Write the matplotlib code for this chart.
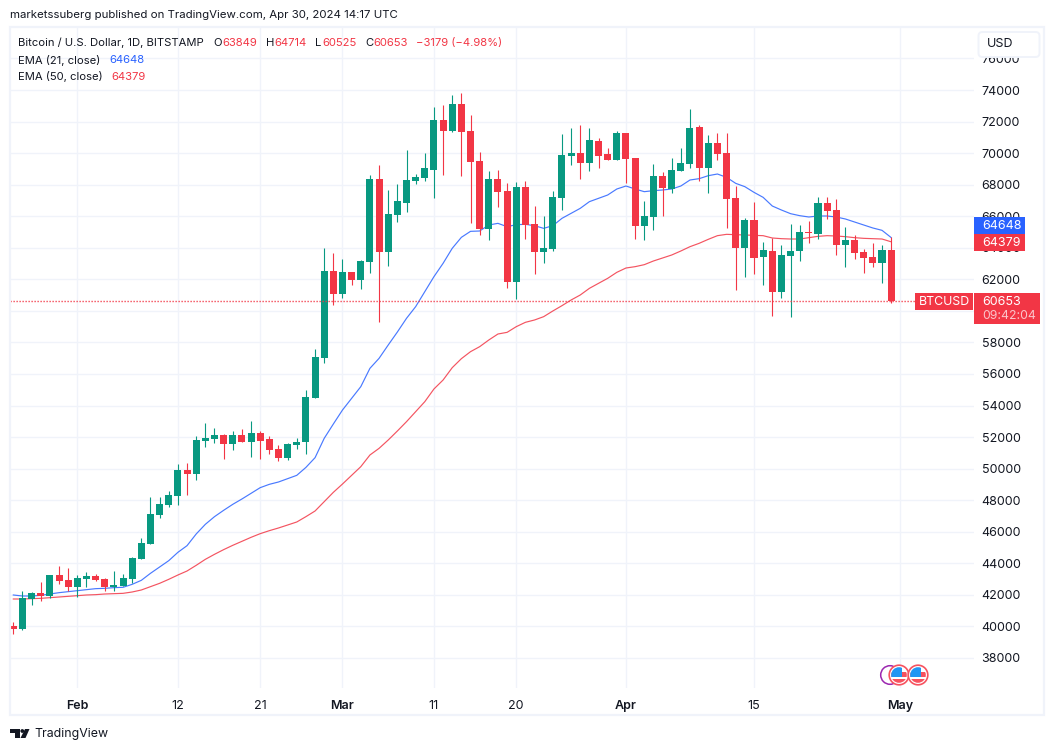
#!/usr/bin/env python3

"""BTCUSD daily candles with EMA 21 / EMA 50, TradingView style."""

import matplotlib
matplotlib.use("Agg")
import matplotlib.dates as mdates
import matplotlib.patches as mpatches
import matplotlib.pyplot as plt
import numpy as np
import pandas as pd

GREEN = "#089981"
RED = "#F23645"
BLUE = "#2962FF"
TEXT = "#131722"
GRID = "#F0F3FA"

plt.rcParams["font.family"] = ["Inter", "DejaVu Sans"]

opens = [
    40028, 39838, 41760, 42120, 41929, 43260, 42943, 42500, 43007, 43197,
    43007, 42500, 42563, 43007, 44274, 45225, 47063, 47697, 48267, 49915,
    49662, 51753, 51880, 52134, 51563, 52134, 51690, 52260, 51880, 51246,
    50676, 51500, 51690, 54479, 57014, 62528, 61070, 62465, 61958, 63099,
    68359, 63732, 66078, 66838, 68232, 68423, 68930, 72099, 71402, 73113,
    71402, 69500, 65190, 68359, 67599, 61831, 67852, 65507, 63732, 63923,
    67155, 69817, 70007, 69373, 70768, 69944, 69563, 71275, 69690, 65380,
    65951, 68549, 67746, 68866, 69310, 71655, 69056, 70641, 70007, 67155,
    63986, 65760, 63415, 63796, 61197, 63479, 63796, 65000, 64873, 66838,
    66394, 64176, 64493, 63732, 63415, 63035, 63849,
]
highs = [
    40281, 42246, 42183, 42817, 43260, 43831, 43704, 43260, 43450, 43323,
    43070, 43514, 43323, 44401, 45605, 48204, 48204, 48584, 50296, 50359,
    52070, 52894, 52577, 52197, 52387, 52514, 53021, 52387, 52070, 51500,
    51627, 51944, 54986, 57585, 63986, 63669, 63289, 62465, 63225, 68613,
    69247, 67662, 68042, 70197, 68676, 70007, 72923, 73049, 73683, 73810,
    72416, 70070, 68866, 68930, 68106, 68169, 68232, 66648, 66014, 67599,
    71212, 71592, 71782, 71592, 70958, 70324, 71401, 71275, 69690, 66965,
    69310, 68803, 69690, 70324, 72796, 71782, 71148, 71275, 71275, 67915,
    65887, 66901, 64366, 64620, 64176, 65507, 65444, 65697, 67218, 67218,
    67091, 65317, 64810, 63922, 64303, 64176, 64714,
]
lows = [
    39521, 39774, 41359, 41612, 41803, 42690, 42246, 41866, 42500, 42880,
    42246, 42246, 42563, 42754, 44274, 45225, 46873, 47571, 47697, 48331,
    49282, 51373, 51627, 50612, 51183, 51690, 50739, 50612, 50929, 50486,
    50549, 51246, 50930, 54479, 56697, 60373, 60817, 61641, 61387, 62401,
    59296, 62845, 65634, 66268, 68042, 68232, 67155, 68613, 71338, 68550,
    65570, 64810, 64493, 66585, 61451, 60753, 64556, 62338, 63035, 63796,
    66395, 69247, 68359, 68866, 69056, 69563, 69563, 68106, 64556, 64493,
    65127, 66014, 67472, 68866, 69056, 68232, 67472, 69563, 65254, 61324,
    62148, 62338, 61641, 59676, 60817, 59612, 63162, 64303, 64556, 65824,
    63542, 62781, 63289, 62401, 62781, 61768, 60525,
]
closes = [
    39838, 41803, 42120, 41929, 43260, 42880, 42500, 43070, 43197, 42943,
    42500, 42627, 43070, 44338, 45288, 47127, 47760, 48331, 49915, 49662,
    51817, 51944, 52134, 51563, 52134, 51690, 52260, 51753, 51183, 50676,
    51563, 51690, 54542, 57077, 62528, 61070, 62465, 61958, 63162, 68359,
    63732, 66141, 66965, 68296, 68486, 69056, 72099, 71402, 73113, 71338,
    69437, 65190, 68359, 67535, 61831, 67852, 65444, 63732, 63986, 67218,
    69880, 70007, 69373, 70831, 69817, 69563, 71275, 69627, 65380, 66014,
    68549, 67789, 68930, 69373, 71592, 69056, 70641, 69944, 67091, 63986,
    65760, 63352, 63859, 61197, 63542, 63796, 65000, 64937, 66838, 66331,
    64176, 64493, 63669, 63352, 63035, 63859, 60653,
]
ema21 = [
    41993, 41929, 41929, 41971, 42056, 42140, 42204, 42267, 42331, 42394,
    42415, 42458, 42479, 42669, 42922, 43366, 43767, 44169, 44697, 45120,
    45859, 46472, 46957, 47359, 47739, 48077, 48436, 48796, 49007, 49155,
    49366, 49577, 50080, 50697, 51922, 52831, 53718, 54458, 55197, 56359,
    56993, 57838, 58660, 59528, 60268, 61218, 62169, 63014, 63965, 64662,
    65042, 65063, 65444, 65549, 65338, 65465, 65486, 65401, 65232, 65401,
    65866, 66183, 66500, 66923, 67134, 67345, 67725, 67915, 67725, 67556,
    67620, 67662, 67725, 67915, 68296, 68380, 68570, 68676, 68465, 68084,
    67873, 67514, 67197, 66648, 66394, 66162, 66035, 65951, 66014, 66014,
    65951, 65824, 65634, 65444, 65254, 65106, 64648,
]
ema50 = [
    41739, 41739, 41760, 41781, 41823, 41866, 41908, 41950, 41993, 42014,
    42056, 42077, 42098, 42183, 42310, 42521, 42732, 42986, 43260, 43514,
    43873, 44253, 44570, 44867, 45141, 45394, 45648, 45880, 46070, 46240,
    46429, 46620, 46958, 47317, 47908, 48500, 49027, 49577, 50126, 50866,
    51288, 51816, 52387, 52978, 53612, 54246, 55049, 55619, 56401, 56971,
    57415, 57732, 58155, 58535, 58640, 58999, 59275, 59423, 59634, 59993,
    60331, 60690, 61007, 61429, 61747, 62063, 62444, 62718, 62803, 62929,
    63162, 63352, 63542, 63796, 64070, 64282, 64535, 64767, 64852, 64831,
    64810, 64789, 64767, 64620, 64577, 64556, 64556, 64641, 64725, 64767,
    64746, 64704, 64641, 64598, 64577, 64556, 64379,
]

price_ticks = list(range(38000, 76001, 2000))
time_ticks = ["2024-02-01", "2024-02-12", "2024-02-21", "2024-03-01", "2024-03-11",
              "2024-03-20", "2024-04-01", "2024-04-15", "2024-05-01"]
time_labels = ["Feb", "12", "21", "Mar", "11", "20", "Apr", "15", "May"]
month_labels = {"Feb", "Mar", "Apr", "May"}

dates = mdates.date2num(pd.date_range("2024-01-25", periods=len(closes), freq="D"))
o, h, l, c = map(np.array, (opens, highs, lows, closes))
colors = [GREEN if cl >= op else RED for op, cl in zip(o, c)]

W, H = 1054, 751
fig = plt.figure(figsize=(W / 100, H / 100), dpi=100, facecolor="white")

# price pane, in pixels: x 10..974, y 28..688
ax = fig.add_axes([10 / W, 1 - 688 / H, 964 / W, 660 / H])
ax.set_xlim(dates[0] - 0.361, dates[0] + 105.06)
ax.set_ylim(36098, 77930)
for side in ax.spines.values():
    side.set_visible(False)

ax.set_axisbelow(True)
ax.grid(True, color=GRID, linewidth=1.0)
ax.set_yticks(price_ticks)
ax.set_yticklabels([str(p) for p in price_ticks])
ax.yaxis.tick_right()
ax.tick_params(axis="y", length=0, pad=5.5, labelsize=9.0, labelcolor=TEXT)
ax.set_xticks(mdates.date2num(pd.to_datetime(time_ticks)))
ax.set_xticklabels(time_labels)
ax.tick_params(axis="x", length=0, pad=8.4, labelsize=9.0, labelcolor=TEXT)
for lab in ax.get_xticklabels():
    if lab.get_text() in month_labels:
        lab.set_fontweight("semibold")

ax.plot(dates, ema21, color=BLUE, linewidth=0.85, alpha=0.85, zorder=2)
ax.plot(dates, ema50, color=RED, linewidth=0.85, alpha=0.85, zorder=2)
ax.vlines(dates, l, h, colors=colors, linewidth=0.8, zorder=3)
ax.bar(dates, np.abs(c - o), bottom=np.minimum(o, c), width=0.77, color=colors,
       linewidth=0, zorder=4)
ax.plot([dates[0] - 0.361, dates[-1] + 2.6], [closes[-1], closes[-1]], color=RED,
        linewidth=1.0, linestyle=(0, (0.9, 1.26)), zorder=5)

# everything around the pane is placed in pixels
ov = fig.add_axes([0, 0, 1, 1])
ov.set_xlim(0, W)
ov.set_ylim(H, 0)
ov.axis("off")
ov.patch.set_alpha(0)

ov.add_patch(mpatches.Rectangle((9.5, 27), 1034.5, 688, fill=False, edgecolor=GRID, linewidth=1.6))
ov.add_patch(mpatches.FancyBboxPatch((978.5, 32), 61, 25, boxstyle="round,pad=0,rounding_size=4",
                                     facecolor="white", edgecolor=GRID, linewidth=1.4, zorder=5))
ov.text(987, 44, "USD", fontsize=9.0, color=TEXT, va="center", zorder=6)


def badge(x0, y0, x1, y1, color):
    ov.add_patch(mpatches.Rectangle((x0, y0), x1 - x0, y1 - y0, facecolor=color, linewidth=0, zorder=5))


badge(974, 217, 1025, 234, BLUE)
badge(974, 234, 1025, 251, RED)
badge(915, 293, 973, 310, RED)
badge(974, 293, 1040, 324, RED)
ov.text(982, 226, "64648", fontsize=9.0, color="white", va="center", zorder=6)
ov.text(982, 243, "64379", fontsize=9.0, color="white", va="center", zorder=6)
ov.text(919, 302, "BTCUSD", fontsize=8.9, color="white", va="center", zorder=6)
ov.text(982, 302, "60653", fontsize=9.0, color="white", va="center", zorder=6)
ov.text(982, 316, "09:42:04", fontsize=8.8, color="#FBC4CA", va="center", zorder=6)

ov.text(10, 15.5, "marketssuberg published on TradingView.com, Apr 30, 2024 14:17 UTC",
        fontsize=8.25, color=TEXT, va="center")

legend_rows = [
    (18, 43, "Bitcoin / U.S. Dollar, 1D, BITSTAMP", TEXT),
    (213, 43, "O", TEXT), (222, 43, "63849", RED),
    (266, 43, "H", TEXT), (274, 43, "64714", RED),
    (315, 43, "L", TEXT), (322, 43, "60525", RED),
    (365, 43, "C", TEXT), (373, 43, "60653", RED),
    (416, 43, "\u22123179 (\u22124.98%)", RED),
    (18, 60, "EMA (21, close)", TEXT), (109, 60, "64648", BLUE),
    (18, 77, "EMA (50, close)", TEXT), (111, 77, "64379", RED),
]
for x, y, s, col in legend_rows:
    ov.text(x, y, s, fontsize=8.1, color=col, va="center")

# event icons above the time axis
ov.add_patch(mpatches.Circle((890, 675), 9.3, facecolor="white", edgecolor="#9C27B0", linewidth=1.1, zorder=3))
for cx in (899, 918):
    ov.add_patch(mpatches.Circle((cx, 675), 9.8, facecolor="white", edgecolor="#F7525F", linewidth=1.2, zorder=4))
    clip = mpatches.Circle((cx, 675), 7.8, transform=ov.transData)
    bands = [
        (cx - 9, 672.3, 18, 4.4, "#F7525F", 4.5),
        (cx - 9, 679.3, 18, 4.0, "#F7525F", 4.5),
        (cx - 9, 666, 11.7, 10.7, "#2196F3", 4.6),
    ]
    for x0, y0, bw, bh, col, z in bands:
        band = mpatches.Rectangle((x0, y0), bw, bh, facecolor=col, linewidth=0, zorder=z)
        ov.add_patch(band)
        band.set_clip_path(clip)

# footer logo
ov.add_patch(mpatches.Polygon([(10, 729), (20, 729), (20, 738), (15, 738), (15, 733), (10, 733)],
                              facecolor=TEXT, linewidth=0))
ov.add_patch(mpatches.Circle((22.3, 731), 1.9, facecolor=TEXT, linewidth=0))
ov.add_patch(mpatches.Polygon([(25, 729), (29.5, 729), (25.5, 738), (20.5, 738)], facecolor=TEXT, linewidth=0))
ov.text(34, 734, "TradingView", fontsize=8.9, color=TEXT, va="center")

fig.savefig("out.png", dpi=100)
plt.close(fig)
